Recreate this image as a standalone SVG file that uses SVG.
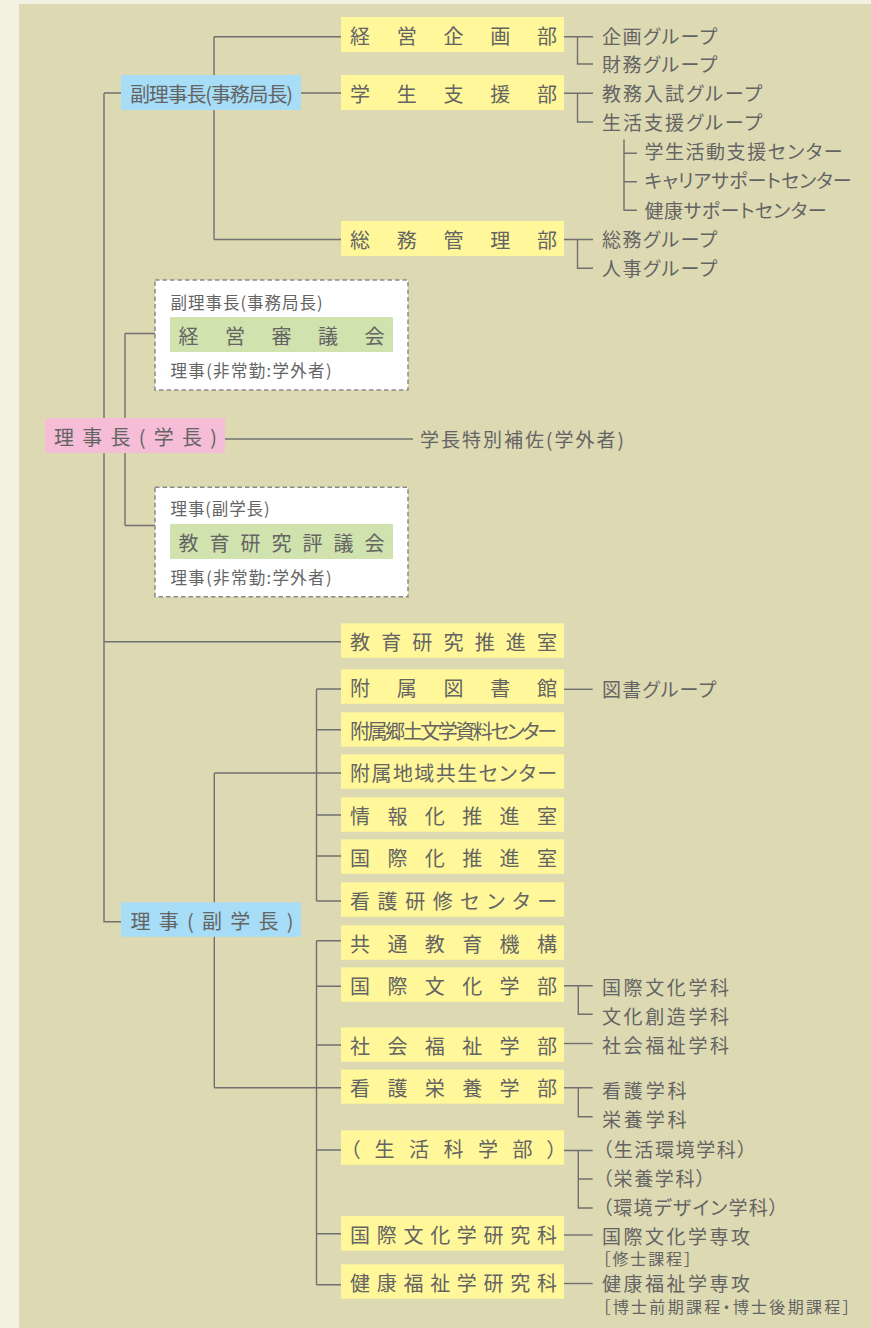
<svg xmlns="http://www.w3.org/2000/svg" width="871" height="1328" viewBox="0 0 871 1328">
<defs>
<style>
text{font-family:"Noto Sans CJK JP","Noto Sans CJK SC",sans-serif;fill:#646464;dominant-baseline:central;font-feature-settings:"palt"}
.bx{font-size:20px}
.lb{font-size:19px}
.sm{font-size:16px}
.ds{font-size:16.5px}
.y{fill:#fff799}
.b{fill:#a8ddf7}
.p{fill:#f6bdd6}
.g{fill:#d0e2ad}
.dash{fill:#fff;stroke:#8a8a8a;stroke-width:1.5;stroke-dasharray:4.5 3}
.ln{fill:none;stroke:#707070;stroke-width:1.4}
</style>
</defs>
<rect x="0" y="0" width="871" height="1328" fill="#f3f1e1"/>
<rect x="19" y="4" width="852" height="1324" fill="#ddd9b2"/>

<g id="connectors" class="ln">
<path d="M104 93V921.7H121M104 93H121M104 641.7H341"/>
<path d="M301 93H341M214 36.7V239.5M214 36.7H341M214 239.5H341"/>
<path d="M564 36.7H593M577.5 36.7V64H593"/>
<path d="M564 93.3H593M577.5 93.3V122H593"/>
<path d="M624 139.5V210.3H637M624 153.3H637M624 181.7H637"/>
<path d="M564 239.5H593M577.5 239.5V268.3H593"/>
<path d="M125 333.5V525.5M125 333.5H155M125 525.5H155"/>
<path d="M225 439H413"/>
<path d="M316.5 689V901M316.5 689H341M316.5 729.7H341M316.5 773H341M316.5 815H341M316.5 856H341M316.5 901H341"/>
<path d="M564 689.3H592.7"/>
<path d="M214.3 773V1087.7M214.3 773H316.5M214.3 1087.7H341"/>
<path d="M316.5 940.7V1284.7M316.5 940.7H341M316.5 986.3H341M316.5 1045H341M316.5 1150H341M316.5 1233.7H341M316.5 1284.7H341"/>
<path d="M564 985.7H592.7M578.3 985.7V1014.3H592.7"/>
<path d="M564 1043.5H592.7"/>
<path d="M564 1087.7H592.7M578.3 1087.7V1116.7H592.7"/>
<path d="M564 1150.5H592.7M578.3 1150.5V1208H592.7M578.3 1179H592.7"/>
<path d="M564 1235H592.7"/>
<path d="M564 1283.5H592.7"/>
</g>

<g id="n-rijicho"><rect class="p" x="45" y="418" width="180" height="35"/><text class="bx" x="54" y="436" textLength="163" lengthAdjust="spacing">理事長(学長)</text></g>
<g id="n-fukurijicho"><rect class="b" x="121" y="75" width="180" height="35"/><text class="bx" x="130" y="93" textLength="163" lengthAdjust="spacing">副理事長(事務局長)</text></g>
<g id="n-riji"><rect class="b" x="121" y="902.3" width="180" height="34.5"/><text class="bx" x="130.5" y="920" textLength="163" lengthAdjust="spacing">理事(副学長)</text></g>

<g id="n-keiei"><rect class="y" x="341" y="17" width="223" height="35"/><text class="bx" x="350" y="35.5" textLength="207" lengthAdjust="spacing">経営企画部</text></g>
<g id="n-gakusei"><rect class="y" x="341" y="75" width="223" height="35"/><text class="bx" x="350" y="93" textLength="207" lengthAdjust="spacing">学生支援部</text></g>
<g id="n-somu"><rect class="y" x="341" y="221" width="223" height="35"/><text class="bx" x="350" y="239" textLength="207" lengthAdjust="spacing">総務管理部</text></g>

<g id="t-top" class="lb">
<text x="602" y="35.5" textLength="115" lengthAdjust="spacing">企画グループ</text>
<text x="602" y="63.5" textLength="115" lengthAdjust="spacing">財務グループ</text>
<text x="602" y="92" textLength="160" lengthAdjust="spacing">教務入試グループ</text>
<text x="602" y="121" textLength="160" lengthAdjust="spacing">生活支援グループ</text>
<text x="644.5" y="150.5" textLength="198" lengthAdjust="spacing">学生活動支援センター</text>
<text x="644.5" y="179.7" textLength="207" lengthAdjust="spacing">キャリアサポートセンター</text>
<text x="644.5" y="209" textLength="182" lengthAdjust="spacing">健康サポートセンター</text>
<text x="602" y="238" textLength="115" lengthAdjust="spacing">総務グループ</text>
<text x="602" y="267" textLength="115" lengthAdjust="spacing">人事グループ</text>
<text x="420" y="438" textLength="204" lengthAdjust="spacing">学長特別補佐(学外者)</text>
</g>

<g id="n-keieishingikai">
<rect class="dash" x="155" y="280" width="253" height="110"/>
<text class="ds" x="170.5" y="301.5" textLength="152" lengthAdjust="spacing">副理事長(事務局長)</text>
<rect class="g" x="170" y="317" width="223" height="35"/>
<text class="bx" x="178.5" y="335" textLength="206" lengthAdjust="spacing">経営審議会</text>
<text class="ds" x="170.5" y="370" textLength="161" lengthAdjust="spacing">理事(非常勤:学外者)</text>
</g>
<g id="n-kyoikukenkyu">
<rect class="dash" x="155" y="487.3" width="253" height="109.5"/>
<text class="ds" x="170.5" y="508" textLength="99" lengthAdjust="spacing">理事(副学長)</text>
<rect class="g" x="170" y="524" width="223" height="35"/>
<text class="bx" x="178.5" y="542" textLength="206" lengthAdjust="spacing">教育研究評議会</text>
<text class="ds" x="170.5" y="577" textLength="161" lengthAdjust="spacing">理事(非常勤:学外者)</text>
</g>

<g id="n-suishin"><rect class="y" x="341" y="623.3" width="223" height="34.5"/><text class="bx" x="350" y="641.5" textLength="207" lengthAdjust="spacing">教育研究推進室</text></g>
<g id="n-tosho"><rect class="y" x="341" y="669.3" width="223" height="34.5"/><text class="bx" x="350" y="687.5" textLength="207" lengthAdjust="spacing">附属図書館</text></g>
<g id="n-kyodo"><rect class="y" x="341" y="712.3" width="223" height="34.5"/><text class="bx" x="350" y="730.5" textLength="207" lengthAdjust="spacing">附属郷土文学資料センター</text></g>
<g id="n-chiiki"><rect class="y" x="341" y="754.3" width="223" height="34.5"/><text class="bx" x="350" y="772.5" textLength="207" lengthAdjust="spacing">附属地域共生センター</text></g>
<g id="n-joho"><rect class="y" x="341" y="797.3" width="223" height="34.5"/><text class="bx" x="350" y="815.5" textLength="207" lengthAdjust="spacing">情報化推進室</text></g>
<g id="n-kokusaika"><rect class="y" x="341" y="839.3" width="223" height="34.5"/><text class="bx" x="350" y="857.5" textLength="207" lengthAdjust="spacing">国際化推進室</text></g>
<g id="n-kango-kenshu"><rect class="y" x="341" y="882.3" width="223" height="34.5"/><text class="bx" x="350" y="900.5" textLength="207" lengthAdjust="spacing">看護研修センター</text></g>
<g id="n-kyotsu"><rect class="y" x="341" y="925.3" width="223" height="34.5"/><text class="bx" x="350" y="943.5" textLength="207" lengthAdjust="spacing">共通教育機構</text></g>
<g id="n-kokusai-bunka"><rect class="y" x="341" y="967.3" width="223" height="34.5"/><text class="bx" x="350" y="985.5" textLength="207" lengthAdjust="spacing">国際文化学部</text></g>
<g id="n-shakai"><rect class="y" x="341" y="1027.3" width="223" height="34.5"/><text class="bx" x="350" y="1045.5" textLength="207" lengthAdjust="spacing">社会福祉学部</text></g>
<g id="n-kango-eiyo"><rect class="y" x="341" y="1069.7" width="223" height="34"/><text class="bx" x="350" y="1087.7" textLength="207" lengthAdjust="spacing">看護栄養学部</text></g>
<g id="n-seikatsu"><rect class="y" x="341" y="1130.3" width="223" height="34.5"/><text class="bx" x="350" y="1148.5" textLength="207" lengthAdjust="spacing">（生活科学部）</text></g>
<g id="n-kokusai-kenkyuka"><rect class="y" x="341" y="1216" width="223" height="34.7"/><text class="bx" x="350" y="1234.3" textLength="207" lengthAdjust="spacing">国際文化学研究科</text></g>
<g id="n-kenko-kenkyuka"><rect class="y" x="341" y="1264.3" width="223" height="34.5"/><text class="bx" x="350" y="1282.5" textLength="207" lengthAdjust="spacing">健康福祉学研究科</text></g>

<g id="t-bottom" class="lb">
<text x="602" y="688.7" textLength="114" lengthAdjust="spacing">図書グループ</text>
<text x="602" y="986" textLength="127" lengthAdjust="spacing">国際文化学科</text>
<text x="602" y="1015" textLength="127" lengthAdjust="spacing">文化創造学科</text>
<text x="602" y="1044" textLength="127" lengthAdjust="spacing">社会福祉学科</text>
<text x="602" y="1089" textLength="84.5" lengthAdjust="spacing">看護学科</text>
<text x="602" y="1118" textLength="84.5" lengthAdjust="spacing">栄養学科</text>
<text x="602.5" y="1148.3" textLength="144.5" lengthAdjust="spacing">（生活環境学科）</text>
<text x="602.5" y="1177.3" textLength="103" lengthAdjust="spacing">（栄養学科）</text>
<text x="602.5" y="1206.7" textLength="176" lengthAdjust="spacing">（環境デザイン学科）</text>
<text x="602" y="1235.5" textLength="148" lengthAdjust="spacing">国際文化学専攻</text>
<text class="sm" x="602.5" y="1258.2" textLength="89.5" lengthAdjust="spacing">［修士課程］</text>
<text x="602" y="1282.5" textLength="148" lengthAdjust="spacing">健康福祉学専攻</text>
<text class="sm" x="602.5" y="1305.5" textLength="248" lengthAdjust="spacing">［博士前期課程・博士後期課程］</text>
</g>
</svg>
